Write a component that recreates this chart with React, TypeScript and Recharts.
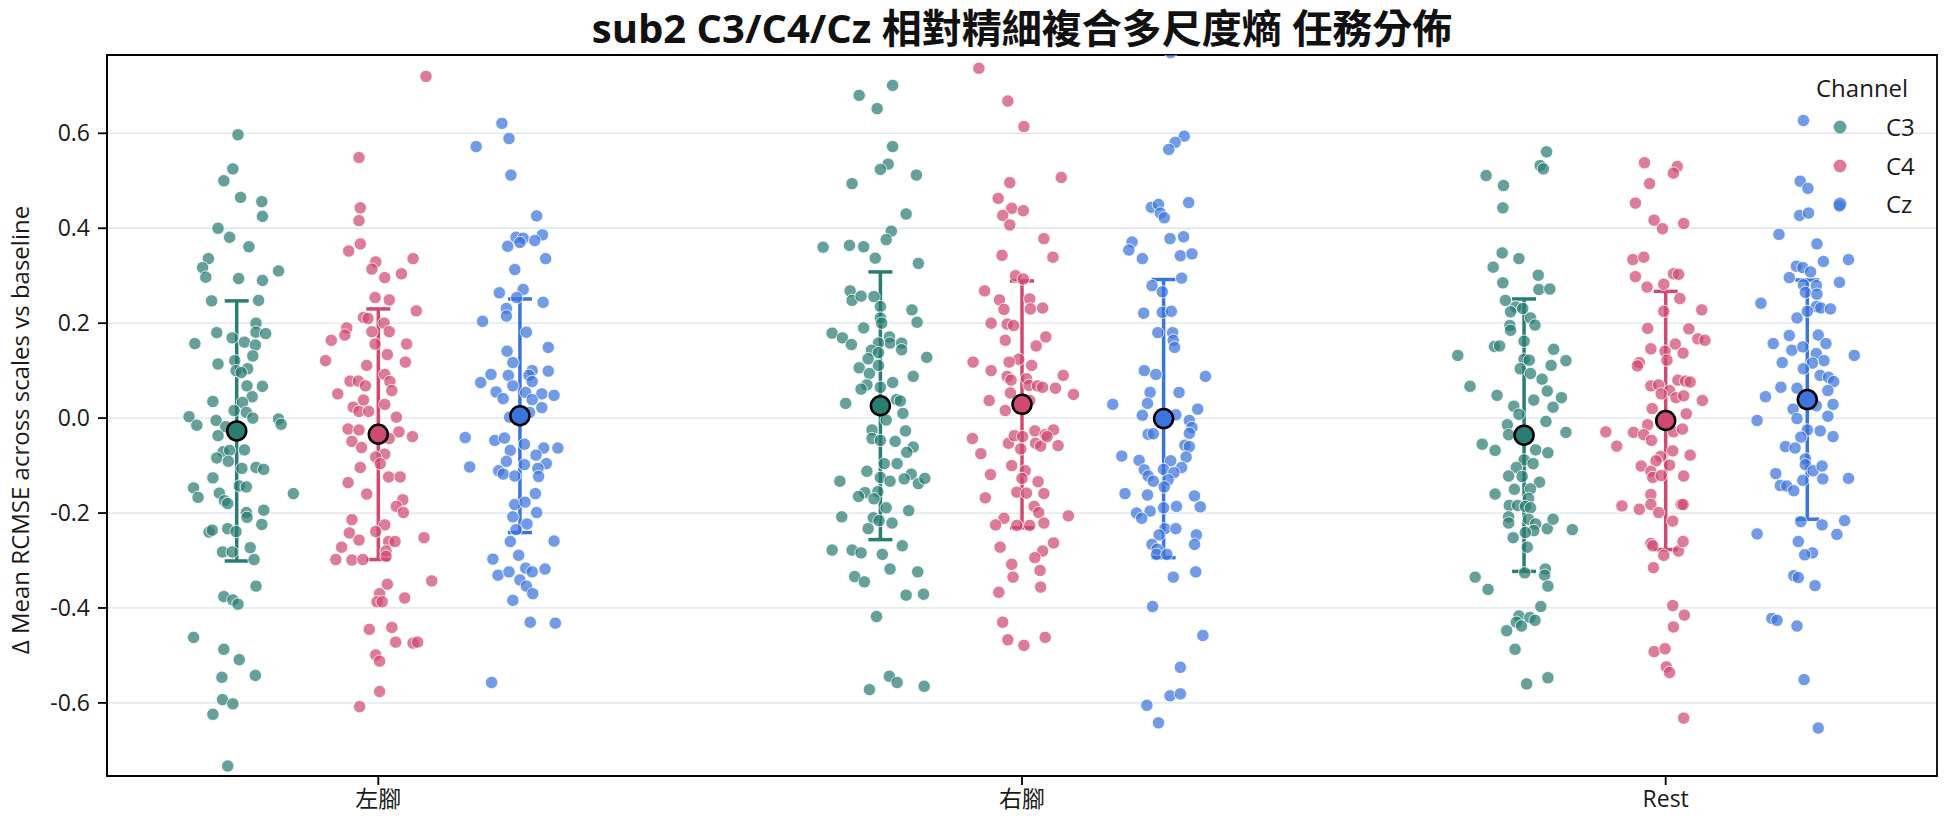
import React from "react";
import {
  ScatterChart,
  Scatter,
  XAxis,
  YAxis,
  CartesianGrid,
  ErrorBar,
  ReferenceArea,
  Legend,
} from "recharts";

const tasks = ["左腳", "右腳", "Rest"];
const channels = ["C3", "C4", "Cz"];
const channelColors = ["#2a7d73", "#d04a70", "#3b74dc"];
const dodge = [-0.22, 0, 0.22];
const yTicks = [-0.6, -0.4, -0.2, 0, 0.2, 0.4, 0.6];

// each point: [horizontal jitter, Δ mean RCMSE]
const leftC3 = [[0.002,0.597],[-0.006,0.525],[-0.02,0.5],[0.006,0.465],[0.039,0.456],[0.04,0.425],[-0.029,0.4],[-0.011,0.381],[0.019,0.361],[-0.044,0.336],[-0.053,0.317],[-0.048,0.297],[0.003,0.294],[0.04,0.29],[0.065,0.31],[-0.039,0.247],[0.034,0.248],[0.03,0.2],[0.03,0.181],[0.045,0.178],[-0.031,0.18],[-0.007,0.169],[0.012,0.16],[-0.065,0.157],[0.029,0.154],[0.025,0.131],[-0.029,0.114],[-0.003,0.121],[0.017,0.104],[-0.001,0.1],[0.007,0.096],[0.016,0.068],[0.04,0.067],[0.024,0.045],[-0.037,0.035],[0.009,0.033],[-0.004,0.016],[0.015,0.012],[-0.074,0.003],[-0.032,-0.005],[0.025,0.0],[0.065,-0.002],[-0.062,-0.015],[0.069,-0.013],[-0.017,-0.018],[-0.029,-0.037],[0.012,-0.067],[-0.021,-0.071],[-0.011,-0.068],[-0.031,-0.084],[-0.013,-0.091],[0.008,-0.106],[0.03,-0.104],[0.042,-0.108],[-0.037,-0.126],[-0.067,-0.147],[0.004,-0.143],[0.015,-0.145],[-0.027,-0.158],[0.088,-0.159],[-0.06,-0.167],[-0.019,-0.174],[-0.014,-0.18],[0.015,-0.199],[0.042,-0.194],[0.016,-0.209],[0.039,-0.224],[-0.014,-0.233],[-0.001,-0.239],[-0.043,-0.24],[-0.038,-0.236],[-0.022,-0.282],[-0.007,-0.282],[0.021,-0.273],[0.027,-0.298],[0.03,-0.354],[-0.02,-0.376],[-0.006,-0.383],[0.002,-0.392],[-0.067,-0.462],[-0.02,-0.487],[0.004,-0.509],[0.029,-0.542],[-0.023,-0.546],[-0.022,-0.593],[-0.006,-0.602],[-0.037,-0.624],[-0.014,-0.733]];
const leftC4 = [[0.074,0.72],[-0.03,0.549],[-0.028,0.443],[-0.03,0.416],[-0.028,0.367],[-0.046,0.352],[0.054,0.336],[-0.004,0.329],[-0.01,0.314],[0.01,0.296],[0.036,0.304],[-0.005,0.254],[0.017,0.249],[0.059,0.226],[-0.023,0.212],[-0.016,0.21],[-0.049,0.19],[-0.052,0.175],[0.009,0.2],[0.017,0.182],[-0.01,0.182],[-0.073,0.164],[0.044,0.156],[-0.005,0.156],[0.014,0.134],[-0.082,0.121],[0.042,0.118],[-0.018,0.111],[0.01,0.092],[-0.044,0.078],[-0.031,0.078],[0.018,0.077],[-0.02,0.068],[0.021,0.058],[-0.063,0.051],[-0.023,0.038],[0.01,0.029],[-0.039,0.023],[-0.03,0.014],[-0.015,0.014],[0.028,0.002],[-0.047,-0.023],[-0.03,-0.025],[0.032,-0.029],[0.053,-0.039],[-0.041,-0.049],[-0.026,-0.062],[0.017,-0.043],[0.01,-0.076],[-0.004,-0.082],[0.003,-0.096],[-0.028,-0.104],[0.016,-0.124],[0.034,-0.124],[-0.047,-0.136],[-0.018,-0.16],[0.038,-0.172],[0.028,-0.186],[0.039,-0.199],[-0.041,-0.214],[0.01,-0.225],[-0.004,-0.239],[-0.045,-0.242],[-0.03,-0.257],[0.016,-0.26],[0.026,-0.26],[0.071,-0.252],[-0.057,-0.272],[0.012,-0.28],[-0.066,-0.298],[-0.041,-0.299],[-0.024,-0.298],[0.012,-0.291],[0.083,-0.343],[0.014,-0.35],[0.002,-0.37],[0.041,-0.379],[-0.002,-0.387],[0.006,-0.387],[-0.014,-0.445],[0.021,-0.441],[0.027,-0.472],[0.054,-0.474],[0.061,-0.472],[-0.004,-0.499],[0.002,-0.512],[0.002,-0.576],[-0.029,-0.608]];
const leftCz = [[-0.028,0.621],[-0.068,0.572],[-0.017,0.589],[-0.014,0.512],[0.026,0.426],[-0.006,0.381],[0.005,0.379],[0.035,0.386],[0.023,0.374],[-0.019,0.362],[0.0,0.37],[0.04,0.336],[-0.008,0.313],[-0.032,0.264],[0.005,0.271],[0.036,0.244],[-0.005,0.254],[-0.021,0.231],[-0.021,0.215],[-0.058,0.204],[0.01,0.181],[0.044,0.149],[-0.02,0.141],[-0.011,0.117],[-0.045,0.092],[-0.018,0.09],[0.019,0.1],[0.044,0.099],[0.014,0.09],[-0.061,0.075],[-0.011,0.068],[0.019,0.077],[-0.037,0.055],[0.009,0.054],[0.034,0.051],[0.053,0.048],[-0.026,0.041],[0.019,0.039],[0.034,0.022],[0.015,0.012],[-0.016,0.002],[-0.085,-0.041],[-0.039,-0.047],[-0.024,-0.042],[0.007,-0.055],[0.037,-0.063],[0.059,-0.063],[-0.015,-0.068],[0.025,-0.078],[-0.021,-0.091],[0.007,-0.098],[0.041,-0.096],[-0.078,-0.103],[-0.033,-0.111],[-0.026,-0.118],[0.028,-0.106],[-0.008,-0.122],[0.029,-0.123],[0.024,-0.159],[-0.008,-0.182],[0.008,-0.177],[0.026,-0.199],[-0.011,-0.208],[0.011,-0.223],[-0.006,-0.235],[-0.015,-0.26],[0.053,-0.259],[-0.002,-0.289],[-0.042,-0.297],[-0.034,-0.331],[-0.017,-0.324],[0.009,-0.316],[0.019,-0.324],[0.039,-0.318],[0.0,-0.341],[0.01,-0.354],[0.02,-0.37],[-0.011,-0.384],[0.016,-0.43],[0.055,-0.432],[-0.044,-0.557]];
const rightC3 = [[-0.033,0.68],[0.019,0.701],[-0.005,0.652],[0.019,0.572],[0.012,0.535],[0.0,0.524],[-0.044,0.494],[0.056,0.512],[0.04,0.43],[0.017,0.394],[0.009,0.376],[-0.089,0.36],[-0.048,0.364],[-0.026,0.361],[-0.008,0.337],[0.059,0.326],[-0.047,0.268],[-0.044,0.248],[-0.03,0.257],[-0.01,0.256],[0.0,0.235],[0.049,0.228],[0.0,0.211],[0.057,0.202],[0.002,0.2],[-0.075,0.179],[-0.059,0.169],[-0.045,0.155],[-0.026,0.19],[0.014,0.171],[0.015,0.158],[0.033,0.158],[0.033,0.144],[-0.003,0.158],[-0.014,0.143],[-0.003,0.138],[0.072,0.128],[-0.019,0.125],[-0.033,0.106],[-0.003,0.111],[0.051,0.088],[-0.017,0.094],[-0.021,0.07],[-0.03,0.061],[0.019,0.075],[0.0,0.065],[-0.054,0.031],[0.025,0.039],[0.031,0.036],[0.009,-0.004],[0.035,0.01],[0.039,-0.027],[-0.013,-0.025],[-0.013,-0.043],[0.0,-0.047],[0.023,-0.049],[0.051,-0.061],[0.041,-0.072],[0.006,-0.096],[0.026,-0.096],[-0.021,-0.112],[0.048,-0.118],[0.037,-0.128],[0.059,-0.138],[0.069,-0.127],[0.0,-0.125],[0.015,-0.133],[-0.063,-0.133],[-0.004,-0.155],[-0.024,-0.157],[-0.034,-0.165],[-0.01,-0.17],[0.009,-0.189],[0.044,-0.195],[-0.06,-0.208],[-0.011,-0.21],[-0.002,-0.216],[0.018,-0.221],[-0.019,-0.233],[-0.075,-0.278],[-0.044,-0.278],[-0.03,-0.284],[0.003,-0.287],[0.034,-0.269],[0.015,-0.318],[0.058,-0.324],[-0.04,-0.334],[-0.025,-0.345],[0.04,-0.373],[0.067,-0.371],[-0.006,-0.418],[0.014,-0.544],[0.026,-0.557],[-0.017,-0.572],[0.068,-0.565]];
const rightC4 = [[-0.067,0.737],[-0.022,0.668],[0.003,0.614],[0.061,0.507],[-0.019,0.496],[-0.037,0.463],[-0.016,0.442],[0.002,0.437],[-0.03,0.427],[-0.019,0.407],[0.034,0.378],[-0.031,0.343],[0.048,0.339],[-0.01,0.3],[0.002,0.293],[-0.058,0.268],[-0.035,0.249],[0.012,0.251],[-0.028,0.229],[0.013,0.23],[0.032,0.232],[-0.048,0.2],[-0.023,0.198],[-0.013,0.195],[0.037,0.171],[-0.026,0.164],[0.022,0.152],[-0.005,0.124],[-0.076,0.118],[-0.02,0.118],[0.015,0.111],[-0.048,0.1],[-0.023,0.088],[-0.017,0.08],[0.007,0.083],[0.011,0.069],[0.024,0.068],[0.032,0.065],[0.052,0.063],[0.064,0.09],[0.08,0.05],[-0.018,0.053],[-0.051,0.037],[0.012,0.037],[-0.026,0.016],[-0.077,-0.043],[-0.021,-0.053],[-0.012,-0.037],[0.001,-0.039],[-0.002,-0.065],[0.02,-0.027],[0.021,-0.053],[0.029,-0.059],[0.036,-0.035],[0.049,-0.025],[0.056,-0.058],[0.039,-0.039],[-0.064,-0.075],[-0.016,-0.1],[-0.049,-0.119],[0.005,-0.111],[0.0,-0.127],[0.025,-0.134],[-0.008,-0.156],[0.007,-0.158],[0.034,-0.159],[-0.057,-0.168],[0.019,-0.186],[0.026,-0.199],[-0.028,-0.211],[-0.041,-0.225],[-0.008,-0.226],[0.012,-0.226],[0.034,-0.221],[0.072,-0.206],[-0.034,-0.272],[0.049,-0.263],[0.032,-0.28],[0.02,-0.294],[-0.016,-0.308],[0.028,-0.321],[-0.014,-0.335],[0.029,-0.356],[-0.036,-0.367],[-0.03,-0.43],[-0.022,-0.467],[0.003,-0.479],[0.036,-0.462]];
const rightCz = [[0.011,0.77],[0.032,0.594],[0.018,0.581],[0.008,0.566],[0.039,0.454],[-0.019,0.444],[-0.008,0.45],[-0.005,0.432],[0.001,0.422],[0.01,0.378],[0.031,0.382],[-0.049,0.371],[-0.054,0.354],[-0.033,0.336],[0.026,0.342],[0.044,0.346],[0.028,0.295],[-0.018,0.279],[-0.002,0.266],[-0.031,0.221],[-0.002,0.223],[0.012,0.225],[-0.009,0.18],[0.014,0.18],[0.015,0.164],[0.017,0.149],[-0.03,0.1],[-0.012,0.092],[0.065,0.088],[-0.021,0.054],[0.024,0.054],[-0.079,0.029],[-0.025,0.031],[0.053,0.019],[-0.033,0.006],[0.019,0.007],[0.04,-0.005],[0.044,-0.02],[-0.024,-0.034],[-0.016,-0.033],[0.04,-0.032],[0.033,-0.057],[0.04,-0.06],[-0.065,-0.08],[-0.038,-0.089],[0.035,-0.082],[0.011,-0.09],[0.028,-0.104],[-0.03,-0.109],[0.0,-0.108],[0.016,-0.115],[-0.024,-0.122],[-0.016,-0.133],[0.007,-0.13],[0.001,-0.145],[-0.06,-0.159],[-0.025,-0.162],[0.048,-0.164],[0.057,-0.187],[0.02,-0.186],[0.0,-0.189],[-0.021,-0.196],[-0.042,-0.2],[-0.034,-0.211],[0.002,-0.233],[0.019,-0.233],[-0.007,-0.246],[0.051,-0.246],[0.048,-0.266],[-0.018,-0.266],[-0.01,-0.276],[-0.011,-0.287],[0.005,-0.287],[0.015,-0.335],[0.05,-0.324],[-0.017,-0.397],[0.061,-0.458],[0.026,-0.525],[0.01,-0.585],[0.026,-0.581],[-0.026,-0.605],[-0.008,-0.642]];
const restC3 = [[0.035,0.561],[0.025,0.532],[0.03,0.525],[-0.059,0.511],[-0.032,0.49],[-0.033,0.443],[-0.034,0.348],[-0.008,0.336],[-0.048,0.318],[0.022,0.301],[-0.033,0.285],[0.023,0.271],[0.04,0.272],[-0.029,0.248],[-0.013,0.234],[-0.002,0.231],[-0.021,0.224],[0.01,0.211],[0.017,0.196],[-0.022,0.195],[-0.021,0.185],[0.0,0.162],[-0.103,0.132],[-0.046,0.151],[-0.038,0.152],[0.046,0.145],[0.065,0.121],[0.0,0.124],[0.008,0.122],[-0.006,0.104],[0.01,0.094],[0.042,0.111],[0.028,0.082],[-0.084,0.067],[0.036,0.057],[-0.042,0.048],[0.058,0.043],[0.015,0.038],[0.045,0.023],[-0.016,0.025],[-0.008,0.008],[0.034,-0.007],[-0.026,-0.014],[-0.024,-0.035],[0.065,-0.03],[-0.065,-0.055],[-0.045,-0.068],[0.018,-0.067],[0.037,-0.073],[0.0,-0.088],[0.014,-0.096],[-0.012,-0.104],[-0.024,-0.122],[-0.003,-0.123],[0.024,-0.135],[-0.015,-0.15],[0.01,-0.149],[-0.045,-0.16],[0.007,-0.169],[-0.023,-0.184],[-0.01,-0.184],[0.002,-0.186],[0.01,-0.189],[-0.024,-0.208],[-0.024,-0.221],[0.007,-0.213],[0.018,-0.223],[0.015,-0.237],[0.036,-0.233],[0.045,-0.213],[0.075,-0.235],[0.002,-0.241],[-0.017,-0.252],[0.005,-0.272],[0.001,-0.326],[-0.076,-0.335],[-0.056,-0.361],[0.033,-0.318],[0.032,-0.331],[0.037,-0.354],[0.026,-0.397],[-0.008,-0.417],[-0.012,-0.43],[-0.004,-0.438],[0.009,-0.42],[0.017,-0.426],[-0.027,-0.448],[-0.014,-0.487],[0.004,-0.56],[0.037,-0.547]];
const restC4 = [[-0.033,0.538],[0.018,0.53],[0.012,0.516],[-0.025,0.494],[-0.047,0.453],[-0.018,0.417],[-0.005,0.399],[0.028,0.41],[-0.051,0.334],[-0.034,0.339],[-0.047,0.298],[-0.029,0.276],[-0.003,0.282],[0.012,0.304],[0.02,0.303],[0.022,0.252],[-0.003,0.225],[0.056,0.228],[-0.028,0.189],[0.036,0.188],[0.05,0.167],[0.061,0.164],[0.015,0.156],[-0.023,0.146],[-0.001,0.141],[0.027,0.137],[0.002,0.122],[-0.041,0.117],[-0.044,0.11],[-0.023,0.068],[-0.011,0.07],[0.019,0.08],[0.031,0.078],[0.038,0.076],[0.006,0.058],[-0.007,0.051],[0.016,0.043],[0.028,0.047],[0.057,0.037],[-0.021,0.02],[0.032,0.009],[-0.028,-0.014],[-0.093,-0.029],[-0.05,-0.03],[-0.034,-0.035],[-0.076,-0.059],[-0.022,-0.047],[0.012,-0.029],[0.026,-0.023],[0.011,-0.069],[0.038,-0.078],[-0.008,-0.081],[-0.015,-0.09],[0.006,-0.099],[-0.038,-0.101],[-0.023,-0.112],[-0.02,-0.125],[-0.007,-0.121],[0.028,-0.122],[-0.023,-0.161],[-0.068,-0.185],[-0.041,-0.192],[-0.023,-0.182],[-0.011,-0.199],[0.024,-0.182],[0.027,-0.182],[0.011,-0.217],[-0.023,-0.264],[-0.02,-0.269],[-0.003,-0.289],[0.02,-0.28],[0.027,-0.26],[-0.019,-0.315],[0.011,-0.395],[0.029,-0.415],[0.012,-0.44],[-0.018,-0.492],[-0.001,-0.486],[0.001,-0.524],[0.006,-0.536],[0.028,-0.632]];
const restCz = [[-0.006,0.627],[-0.011,0.499],[0.001,0.484],[-0.012,0.427],[0.002,0.432],[0.05,0.447],[-0.044,0.387],[0.015,0.367],[0.025,0.33],[0.064,0.334],[-0.017,0.32],[-0.007,0.317],[0.005,0.308],[-0.028,0.296],[0.05,0.286],[-0.006,0.281],[0.014,0.279],[-0.003,0.265],[0.015,0.261],[-0.072,0.242],[0.014,0.235],[0.021,0.232],[0.036,0.23],[0.0,0.225],[-0.016,0.211],[-0.028,0.174],[0.017,0.175],[-0.053,0.157],[0.029,0.157],[-0.024,0.143],[-0.007,0.15],[0.014,0.136],[0.073,0.132],[0.026,0.121],[-0.039,0.117],[0.008,0.116],[-0.006,0.104],[0.02,0.09],[0.033,0.086],[0.041,0.077],[-0.041,0.065],[-0.016,0.063],[0.032,0.058],[-0.065,0.045],[0.04,0.029],[-0.022,0.019],[0.014,0.026],[0.032,0.004],[-0.078,-0.005],[-0.016,-0.001],[0.0,-0.025],[0.02,-0.027],[0.04,-0.039],[-0.01,-0.04],[-0.034,-0.06],[-0.019,-0.063],[-0.003,-0.086],[-0.003,-0.098],[0.009,-0.111],[0.023,-0.101],[-0.049,-0.117],[0.024,-0.128],[0.064,-0.127],[-0.007,-0.131],[-0.042,-0.142],[-0.032,-0.143],[-0.021,-0.153],[-0.01,-0.218],[0.023,-0.225],[0.058,-0.216],[-0.078,-0.244],[0.046,-0.245],[-0.014,-0.26],[0.008,-0.284],[-0.004,-0.288],[-0.021,-0.332],[-0.014,-0.336],[0.012,-0.353],[-0.055,-0.422],[-0.047,-0.426],[-0.016,-0.438],[-0.005,-0.551],[0.017,-0.653]];

// per-task means and standard deviations (左腳, 右腳, Rest)
const meanC3 = [-0.027, 0.026, -0.036];
const meanC4 = [-0.034, 0.029, -0.005];
const meanCz = [0.005, -0.001, 0.039];
const sdC3 = [0.274, 0.282, 0.287];
const sdC4 = [0.264, 0.26, 0.272];
const sdCz = [0.246, 0.293, 0.252];

const X_DOMAIN: [number, number] = [-0.4215, 2.4215];
const Y_DOMAIN: [number, number] = [-0.754, 0.765];
const FONT = "'Open Sans', 'Noto Sans CJK TC', sans-serif";

const pointSets = [
  [leftC3, rightC3, restC3],
  [leftC4, rightC4, restC4],
  [leftCz, rightCz, restCz],
];
const stats = [
  [meanC3, sdC3],
  [meanC4, sdC4],
  [meanCz, sdCz],
];

const stripData = pointSets.map((sets, c) =>
  sets.flatMap((pts, t) => pts.map(([j, v]) => ({ x: t + dodge[c] + j, y: v })))
);
const summaryData = stats.map(([means, sds], c) =>
  tasks.map((_, t) => ({ x: t + dodge[c], y: means[t], sd: sds[t] }))
);

const ChannelLegend = () => (
  <div style={{ fontFamily: FONT, fontSize: 24, color: "#1a1a1a", lineHeight: 1 }}>
    <div style={{ height: 40, display: "flex", alignItems: "center", paddingLeft: 16 }}>
      Channel
    </div>
    {channels.map((ch, i) => (
      <div key={ch} style={{ height: 38.5, display: "flex", alignItems: "center" }}>
        <svg width={14} height={14} style={{ marginLeft: 33 }}>
          <circle cx={7} cy={7} r={6.5} fill={channelColors[i]} fillOpacity={0.72} />
        </svg>
        <span style={{ marginLeft: 39 }}>{ch}</span>
      </div>
    ))}
  </div>
);

export default function App() {
  return (
    <div
      style={{
        position: "absolute",
        left: 0,
        top: 0,
        width: 1944,
        height: 827,
        background: "#fff",
        fontFamily: FONT,
      }}
    >
      <div
        style={{
          position: "absolute",
          left: 107,
          width: 1830,
          top: 0,
          height: 52,
          display: "flex",
          alignItems: "center",
          justifyContent: "center",
          fontSize: 40,
          fontWeight: 700,
          color: "#111",
        }}
      >
        sub2 C3/C4/Cz 相對精細複合多尺度熵 任務分佈
      </div>
      <div
        style={{
          position: "absolute",
          left: 19,
          top: 430,
          transform: "translate(-50%, -50%) rotate(-90deg)",
          whiteSpace: "nowrap",
          fontSize: 24,
          color: "#1a1a1a",
        }}
      >
        Δ Mean RCMSE across scales vs baseline
      </div>
      <ScatterChart
        width={1944}
        height={827}
        margin={{ top: 55, right: 7, bottom: 0, left: 0 }}
      >
        <CartesianGrid vertical={false} stroke="#dbe4ec" strokeWidth={1.3} />
        <XAxis
          type="number"
          dataKey="x"
          domain={X_DOMAIN}
          allowDataOverflow
          ticks={[0, 1, 2]}
          tickFormatter={(v) => tasks[Math.round(v)]}
          height={51}
          tickSize={9}
          tickMargin={6}
          stroke="#000"
          strokeWidth={1.8}
          tick={{ fontSize: 23, fill: "#1a1a1a", fontFamily: FONT }}
        />
        <YAxis
          type="number"
          dataKey="y"
          domain={Y_DOMAIN}
          allowDataOverflow
          ticks={yTicks}
          tickFormatter={(v) => v.toFixed(1)}
          width={107}
          tickSize={9}
          tickMargin={8}
          stroke="#000"
          strokeWidth={1.8}
          tick={{ fontSize: 23, fill: "#1a1a1a", fontFamily: FONT }}
        />
        <ReferenceArea
          x1={X_DOMAIN[0]}
          x2={X_DOMAIN[1]}
          y1={Y_DOMAIN[0]}
          y2={Y_DOMAIN[1]}
          fill="none"
          stroke="#000"
          strokeWidth={1.8}
        />
        {stripData.map((data, c) => (
          <Scatter
            key={`pts-${channels[c]}`}
            name={channels[c]}
            data={data}
            isAnimationActive={false}
            shape={(p: any) => (
              <circle
                cx={p.cx}
                cy={p.cy}
                r={6.2}
                fill={channelColors[c]}
                fillOpacity={0.72}
                stroke="#fff"
                strokeWidth={0.8}
              />
            )}
          />
        ))}
        {summaryData.map((data, c) => (
          <Scatter
            key={`err-${channels[c]}`}
            data={data}
            isAnimationActive={false}
            legendType="none"
            shape={() => <g />}
          >
            <ErrorBar
              dataKey="sd"
              direction="y"
              width={12}
              stroke={channelColors[c]}
              strokeWidth={3.5}
              isAnimationActive={false}
            />
          </Scatter>
        ))}
        {summaryData.map((data, c) => (
          <Scatter
            key={`mean-${channels[c]}`}
            data={data}
            isAnimationActive={false}
            legendType="none"
            shape={(p: any) => (
              <circle
                cx={p.cx}
                cy={p.cy}
                r={9.5}
                fill={channelColors[c]}
                stroke="#000"
                strokeWidth={2.5}
              />
            )}
          />
        ))}
        <Legend
          layout="horizontal"
          verticalAlign="middle"
          align="center"
          content={<ChannelLegend />}
          wrapperStyle={{ left: 1800, top: 68, width: 130, height: 160 }}
        />
      </ScatterChart>
    </div>
  );
}
